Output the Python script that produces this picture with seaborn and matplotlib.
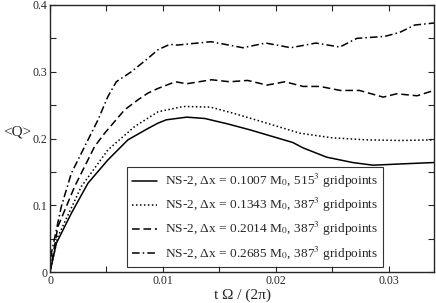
import matplotlib
matplotlib.use("Agg")
import matplotlib.pyplot as plt
import seaborn as sns

# time in units of t*Omega/(2pi), <Q> values
t_a = [0, 0.00056, 0.00189, 0.00336, 0.00513, 0.0069, 0.00867, 0.00956, 0.0103, 0.0121,
       0.0137, 0.0157, 0.0177, 0.0195, 0.0215, 0.0224, 0.0245, 0.0268, 0.0286, 0.0312, 0.034]
q_a = [0, 0.043, 0.088, 0.133, 0.168, 0.198, 0.215, 0.223, 0.228, 0.232,
       0.230, 0.222, 0.213, 0.204, 0.194, 0.186, 0.172, 0.164, 0.160, 0.162, 0.164]

t_b = [0, 0.0007, 0.00277, 0.00513, 0.0075, 0.00956, 0.0118, 0.0142,
       0.0162, 0.0192, 0.0221, 0.025, 0.028, 0.031, 0.034]
q_b = [0, 0.053, 0.128, 0.183, 0.218, 0.240, 0.248, 0.247,
       0.238, 0.223, 0.208, 0.201, 0.198, 0.197, 0.198]

t_c = [0, 0.0007, 0.00218, 0.00395, 0.00484, 0.00661, 0.00779, 0.00867, 0.00956, 0.0111,
       0.0121, 0.0143, 0.0159, 0.0175, 0.0192, 0.0208, 0.0224, 0.0239, 0.0257, 0.0274,
       0.0295, 0.0307, 0.0325, 0.034]
q_c = [0, 0.068, 0.128, 0.188, 0.208, 0.243, 0.258, 0.268, 0.275, 0.285,
       0.282, 0.288, 0.285, 0.287, 0.280, 0.285, 0.278, 0.278, 0.272, 0.272,
       0.262, 0.267, 0.264, 0.272]

t_d = [0, 0.00012, 0.001, 0.00189, 0.00307, 0.00425, 0.00513, 0.00587, 0.0072, 0.00867,
       0.00956, 0.0106, 0.0113, 0.01425, 0.01708, 0.0191, 0.02133, 0.02354, 0.02566,
       0.02717, 0.02965, 0.03097, 0.0323, 0.034]
q_d = [0, 0.028, 0.098, 0.148, 0.188, 0.228, 0.263, 0.285, 0.300, 0.320,
       0.333, 0.341, 0.340, 0.345, 0.336, 0.343, 0.336, 0.343, 0.337,
       0.350, 0.353, 0.359, 0.370, 0.373]

labels = [
    r"NS-2, Δx = 0.1007 M$_0$, 515$^3$ gridpoints",
    r"NS-2, Δx = 0.1343 M$_0$, 387$^3$ gridpoints",
    r"NS-2, Δx = 0.2014 M$_0$, 387$^3$ gridpoints",
    r"NS-2, Δx = 0.2685 M$_0$, 387$^3$ gridpoints",
]

sns.set_style("ticks")
plt.rcParams["font.family"] = ["Liberation Serif", "DejaVu Serif"]
plt.rcParams["mathtext.fontset"] = "stix"

fig = plt.figure(figsize=(4.36, 3.03), dpi=100)
ax = fig.add_axes([0.1147, 0.1023, 0.8807, 0.8812])

series = [(t_a, q_a, "-"), (t_b, q_b, (0, (1, 1.6))),
          (t_c, q_c, (0, (5, 2.5))), (t_d, q_d, (0, (5, 2, 1, 2)))]
for (t, q, ls), lab in zip(series, labels):
    sns.lineplot(x=t, y=q, ax=ax, color="black", linewidth=1.1,
                 linestyle=ls, label=lab, sort=False, estimator=None)

ax.set_xlim(0, 0.034)
ax.set_ylim(0, 0.4)
ax.set_xticks([0, 0.01, 0.02, 0.03])
ax.set_xticklabels(["0", "0.01", "0.02", "0.03"])
ax.set_xticks([0.005, 0.015, 0.025], minor=True)
ax.set_yticks([0, 0.1, 0.2, 0.3, 0.4])
ax.set_yticklabels(["0", "0.1", "0.2", "0.3", "0.4"])
ax.set_yticks([0.05, 0.15, 0.25, 0.35], minor=True)
ax.tick_params(which="both", direction="in", top=True, right=True,
               length=4, width=0.8, labelsize=8.5, pad=2)
for s in ax.spines.values():
    s.set_linewidth(1.0)

ax.set_xlabel("t Ω / (2π)", fontsize=11, labelpad=1)
ax.set_ylabel("<Q>", fontsize=11, rotation=0)
ax.yaxis.set_label_coords(-0.085, 0.5)

leg = ax.legend(loc="lower right", bbox_to_anchor=(0.868, 0.018), fontsize=9.6,
                frameon=True, fancybox=False, edgecolor="black",
                handlelength=1.9, labelspacing=0.45, borderpad=0.35,
                handletextpad=0.6, borderaxespad=0)
leg.get_frame().set_linewidth(0.8)

fig.savefig("out.png", dpi=100)
